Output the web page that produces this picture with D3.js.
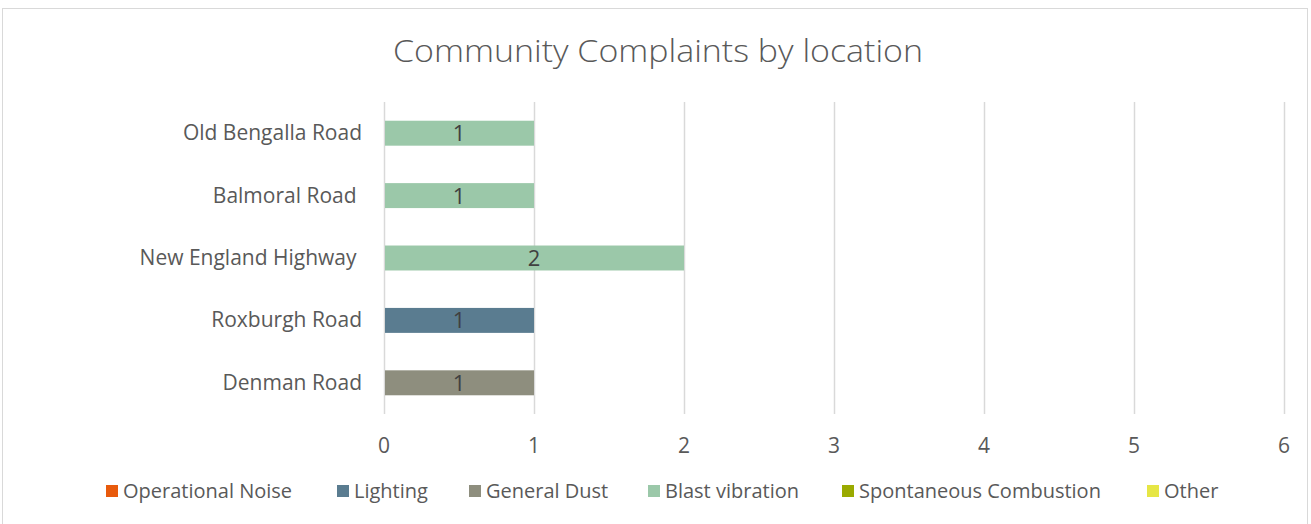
<!DOCTYPE html>
<html><head><meta charset="utf-8">
<script src="https://cdn.jsdelivr.net/npm/d3@7"></script>
<style>body{margin:0;background:#fff}svg{display:block}text{white-space:pre}</style>
</head><body>
<svg id="c" width="1311" height="524"></svg>
<script>
const categories = ["Old Bengalla Road", "Balmoral Road ", "New England Highway ", "Roxburgh Road", "Denman Road"];
const seriesNames = ["Operational Noise", "Lighting", "General Dust", "Blast vibration", "Spontaneous Combustion", "Other"];
const operationalNoise = [0, 0, 0, 0, 0];
const lighting = [0, 0, 0, 1, 0];
const generalDust = [0, 0, 0, 0, 1];
const blastVibration = [1, 1, 2, 0, 0];
const spontaneousCombustion = [0, 0, 0, 0, 0];
const other = [0, 0, 0, 0, 0];
const xTicks = [0, 1, 2, 3, 4, 5, 6];
const colors = ["#E85A0C", "#5A7C90", "#8E8E7E", "#9BC8A9", "#9AAA00", "#E6E645"];

const seriesValues = [operationalNoise, lighting, generalDust, blastVibration, spontaneousCombustion, other];
const rows = categories.map((c, i) => {
  const r = {cat: c};
  seriesNames.forEach((s, j) => r[s] = seriesValues[j][i]);
  return r;
});
const stacked = d3.stack().keys(seriesNames)(rows);

const svg = d3.select("#c");
const font = "'Open Sans', sans-serif";
const txt = "#595959";

svg.append("rect").attr("x", 2.5).attr("y", 8.5).attr("width", 1305).attr("height", 520)
  .attr("fill", "#fff").attr("stroke", "#d9d9d9");

svg.append("text").attr("x", 658).attr("y", 62).attr("text-anchor", "middle")
  .attr("font-family", font).attr("font-size", 32).attr("font-weight", 300).attr("fill", txt)
  .attr("textLength", 530).attr("lengthAdjust", "spacingAndGlyphs")
  .text("Community Complaints by location");

const x = d3.scaleLinear().domain([0, 6]).range([384, 1284]);
const y = d3.scaleBand().domain(categories).range([102, 414]).paddingInner(0.6).paddingOuter(0.3);

// gridlines
svg.append("g").selectAll("line").data(xTicks).join("line")
  .attr("x1", d => x(d) + 0.5).attr("x2", d => x(d) + 0.5)
  .attr("y1", 102).attr("y2", 414).attr("stroke", "#d9d9d9").attr("stroke-width", 1.5);

// x tick labels
svg.append("g").selectAll("text").data(xTicks).join("text")
  .attr("x", d => x(d)).attr("y", 453).attr("text-anchor", "middle")
  .attr("font-family", font).attr("font-size", 21).attr("fill", txt).text(d => d);

// category labels
svg.append("g").selectAll("text").data(categories).join("text")
  .attr("x", 362).attr("y", d => y(d) + y.bandwidth() / 2 + 7).attr("text-anchor", "end")
  .attr("font-family", font).attr("font-size", 21).attr("fill", txt).text(d => d);

// bars
const g = svg.append("g");
stacked.forEach((s, j) => {
  s.forEach(d => {
    if (d[1] - d[0] <= 0) return;
    g.append("rect").attr("x", x(d[0]) + 1).attr("width", x(d[1]) - x(d[0]) - 1)
      .attr("y", y(d.data.cat)).attr("height", y.bandwidth()).attr("fill", colors[j]);
    g.append("text").attr("x", (x(d[0]) + x(d[1])) / 2).attr("y", y(d.data.cat) + y.bandwidth() / 2 + 8)
      .attr("text-anchor", "middle").attr("font-family", font).attr("font-size", 22).attr("fill", "#404040")
      .text(d[1] - d[0]);
  });
});

// legend
const legendX = [106, 337, 469, 648, 842, 1147];
const lg = svg.append("g");
seriesNames.forEach((s, j) => {
  lg.append("rect").attr("x", legendX[j]).attr("y", 485).attr("width", 12).attr("height", 12).attr("fill", colors[j]);
  lg.append("text").attr("x", legendX[j] + 17).attr("y", 498).attr("font-family", font)
    .attr("font-size", 20).attr("fill", txt).text(s);
});
</script>
</body></html>
